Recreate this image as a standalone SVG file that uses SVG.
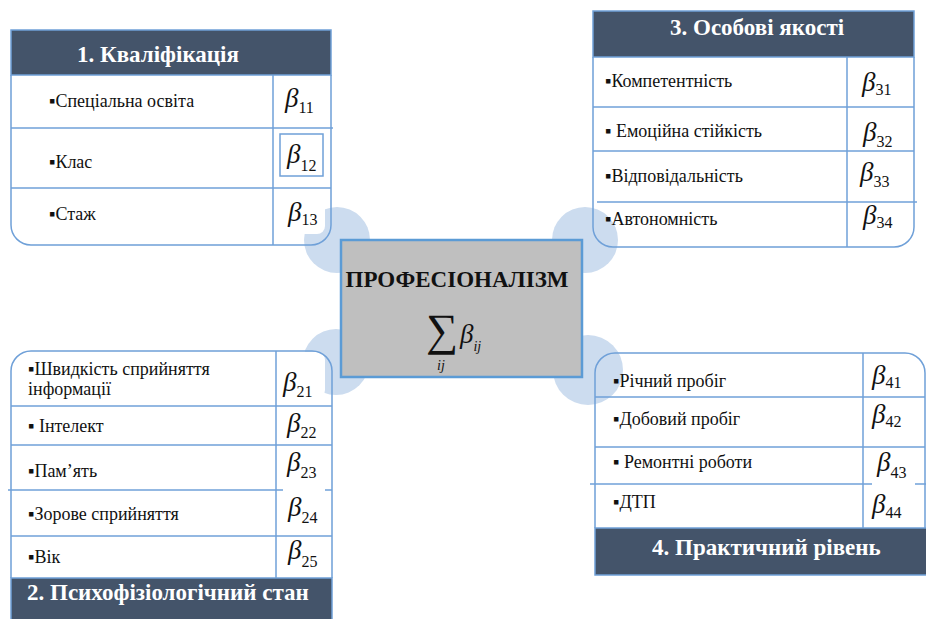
<svg xmlns="http://www.w3.org/2000/svg" width="926" height="619" viewBox="0 0 926 619">
<style>
text{font-family:"Liberation Serif","Times New Roman",serif}
.circ{fill:#CCDCEF}
.hdr{fill:#44546A;stroke:#6FA0D8;stroke-width:1.5}
.ln{fill:none;stroke:#6FA0D8;stroke-width:1.5}
.ht{font-weight:bold;font-size:23px;fill:#FFFFFF}
.it{font-size:18px;fill:#111111}
.b{font-style:italic;font-size:27px;fill:#111111}
.s{font-style:normal;font-size:16px}
.wb{fill:#FFFFFF}
</style>
<rect width="926" height="619" fill="#FFFFFF"/>
<g id="connectors">
<circle class="circ" cx="337" cy="240" r="33"/>
<circle class="circ" cx="585" cy="240" r="33"/>
<circle class="circ" cx="336" cy="362" r="33"/>
<circle class="circ" cx="588" cy="370" r="35"/>
</g>
<g id="panel1">
<rect class="wb" x="283" y="196" width="42" height="38" rx="8"/>
<path class="ln" d="M11,75 V225 A20,20 0 0 0 31,245 H311 A20,20 0 0 0 331,225 V75"/>
<rect class="hdr" x="11" y="30" width="320" height="45"/>
<line class="ln" x1="273" y1="75" x2="273" y2="245"/>
<line class="ln" x1="11" y1="128" x2="333" y2="128"/>
<line class="ln" x1="11" y1="188" x2="331" y2="188"/>
<rect class="ln" x="280" y="134" width="43" height="42"/>
<text class="ht" x="77" y="62">1. Кваліфікація</text>
<text class="it" x="49" y="107">▪Спеціальна освіта</text>
<text class="it" x="49" y="168">▪Клас</text>
<text class="it" x="49" y="220">▪Стаж</text>
<text class="b" x="285" y="107">β<tspan class="s" dy="6">11</tspan></text>
<text class="b" x="287" y="163">β<tspan class="s" dy="8">12</tspan></text>
<text class="b" x="288" y="221">β<tspan class="s" dy="4">13</tspan></text>
</g>
<g id="panel3">
<path class="ln" d="M593,57 V227 A20,20 0 0 0 613,247 H894 A20,20 0 0 0 914,227 V57"/>
<rect class="hdr" x="593" y="11" width="321" height="46"/>
<line class="ln" x1="847" y1="57" x2="847" y2="247"/>
<line class="ln" x1="593" y1="107" x2="914" y2="107"/>
<line class="ln" x1="593" y1="151" x2="914" y2="151"/>
<line class="ln" x1="597" y1="202" x2="917" y2="202"/>
<text class="ht" x="670" y="35">3. Особові якості</text>
<text class="it" x="605" y="87">▪Компетентність</text>
<text class="it" x="605" y="137">▪ Емоційна стійкість</text>
<text class="it" x="605" y="182">▪Відповідальність</text>
<text class="it" x="605" y="225">▪Автономність</text>
<text class="b" x="862" y="91">β<tspan class="s" dy="4">31</tspan></text>
<text class="b" x="863" y="141">β<tspan class="s" dy="6">32</tspan></text>
<text class="b" x="860" y="181">β<tspan class="s" dy="6">33</tspan></text>
<text class="b" x="863" y="224">β<tspan class="s" dy="4">34</tspan></text>
</g>
<g id="panel2">
<rect class="wb" x="283" y="352" width="42" height="46" rx="8"/>
<rect class="wb" x="283" y="484" width="42" height="12"/>
<path class="ln" d="M11,578 V371 A20,20 0 0 1 31,351 H312 A20,20 0 0 1 332,371 V578"/>
<line class="ln" x1="276" y1="351" x2="276" y2="578"/>
<line class="ln" x1="11" y1="406" x2="332" y2="406"/>
<line class="ln" x1="11" y1="445" x2="332" y2="445"/>
<line class="ln" x1="8" y1="490" x2="283" y2="490"/>
<line class="ln" x1="325" y1="490" x2="332" y2="490"/>
<line class="ln" x1="11" y1="536" x2="332" y2="536"/>
<rect class="hdr" x="11" y="578" width="321" height="45"/>
<text class="ht" x="27" y="600">2. Психофізіологічний стан</text>
<text class="it" x="28" y="375">▪Швидкість сприйняття</text>
<text class="it" x="28" y="395">інформації</text>
<text class="it" x="28" y="432">▪ Інтелект</text>
<text class="it" x="28" y="477">▪Пам’ять</text>
<text class="it" x="28" y="520">▪Зорове сприйняття</text>
<text class="it" x="28" y="563">▪Вік</text>
<text class="b" x="283" y="391">β<tspan class="s" dy="6">21</tspan></text>
<text class="b" x="287" y="432">β<tspan class="s" dy="6">22</tspan></text>
<text class="b" x="287" y="471">β<tspan class="s" dy="7">23</tspan></text>
<text class="b" x="288" y="516">β<tspan class="s" dy="7">24</tspan></text>
<text class="b" x="288" y="559">β<tspan class="s" dy="8">25</tspan></text>
</g>
<g id="panel4">
<rect class="wb" x="872" y="478" width="43" height="12"/>
<path class="ln" d="M595,528 V373 A20,20 0 0 1 615,353 H905 A20,20 0 0 1 925,373 V528"/>
<line class="ln" x1="863" y1="353" x2="863" y2="528"/>
<line class="ln" x1="595" y1="397" x2="925" y2="397"/>
<line class="ln" x1="595" y1="447" x2="925" y2="447"/>
<line class="ln" x1="590" y1="484" x2="872" y2="484"/>
<line class="ln" x1="915" y1="484" x2="926" y2="484"/>
<rect class="hdr" x="595" y="528" width="332" height="47"/>
<text class="ht" x="652" y="555">4. Практичний рівень</text>
<text class="it" x="613" y="387">▪Річний пробіг</text>
<text class="it" x="613" y="425">▪Добовий пробіг</text>
<text class="it" x="613" y="468">▪ Ремонтні роботи</text>
<text class="it" x="613" y="508">▪ДТП</text>
<text class="b" x="872" y="384">β<tspan class="s" dy="4">41</tspan></text>
<text class="b" x="872" y="423">β<tspan class="s" dy="4">42</tspan></text>
<text class="b" x="877" y="471">β<tspan class="s" dy="7">43</tspan></text>
<text class="b" x="872" y="513">β<tspan class="s" dy="5">44</tspan></text>
</g>
<g id="center">
<rect x="341" y="240" width="241" height="137" fill="#BFBFBF" stroke="#5B9BD5" stroke-width="2.5"/>
<text x="457" y="287" text-anchor="middle" font-weight="bold" font-size="23" fill="#111111">ПРОФЕСІОНАЛІЗМ</text>
<text x="426" y="345" font-size="45" fill="#111111">∑</text>
<text x="437" y="370" font-style="italic" font-size="14" fill="#111111">ij</text>
<text class="b" x="460" y="343">β<tspan font-size="14" dy="8">ij</tspan></text>
</g>
</svg>
